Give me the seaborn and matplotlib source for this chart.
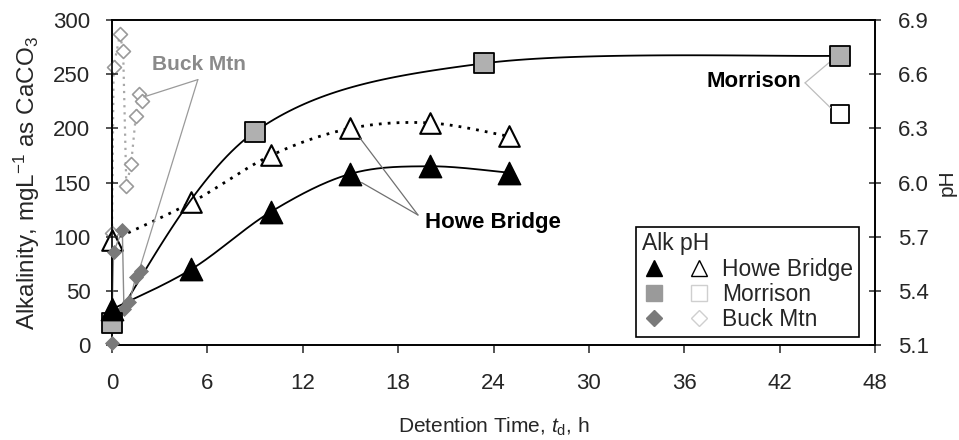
import numpy as np
import matplotlib
matplotlib.use("Agg")
import matplotlib.pyplot as plt
import seaborn as sns
from matplotlib.lines import Line2D
from matplotlib.legend_handler import HandlerTuple

# Detention time (h) and alkalinity (mg/L as CaCO3) / pH for three treatment sites
howe_t = [0, 5, 10, 15, 20, 25]
howe_alk = [33, 70, 123, 158, 165, 159]
howe_ph = [5.68, 5.89, 6.15, 6.30, 6.33, 6.255]

morr_t = [0, 9, 23.4, 45.8]
morr_alk = [20, 197, 260, 267]
morr_ph_t = [45.8]
morr_ph = [6.38]

buck_alk_t = [0, 0, 0.1, 0.65, 0.75, 1.1, 1.5, 1.8]
buck_alk = [2, 25, 86, 106, 33, 40, 63, 68]
buck_ph_t = [0, 0.1, 0.5, 0.7, 0.9, 1.2, 1.5, 1.7, 1.9]
buck_ph = [5.72, 6.64, 6.82, 6.73, 5.98, 6.10, 6.37, 6.49, 6.45]

x_ticks = [0, 6, 12, 18, 24, 30, 36, 42, 48]
alk_ticks = [0, 50, 100, 150, 200, 250, 300]
ph_ticks = [5.1, 5.4, 5.7, 6.0, 6.3, 6.6, 6.9]

sns.set_style("ticks")
plt.rcParams["font.family"] = ["Liberation Sans", "DejaVu Sans"]
plt.rcParams["mathtext.fontset"] = "custom"
plt.rcParams["mathtext.rm"] = "Liberation Sans"
plt.rcParams["mathtext.it"] = "Liberation Sans:italic"


def smooth(x, y, sx, sy, n=40):
    """Bezier-smoothed path through the points (spreadsheet-style smoothing)."""
    P = np.column_stack([np.asarray(x, float) * sx, np.asarray(y, float) * sy])
    P = np.vstack([P[0], P, P[-1]])
    tt = np.linspace(0, 1, n)[:, None]
    out = []
    for i in range(1, len(P) - 2):
        p0, p1, p2, p3 = P[i - 1], P[i], P[i + 1], P[i + 2]
        c1 = p1 + (p2 - p0) / 6
        c2 = p2 - (p3 - p1) / 6
        seg = ((1 - tt) ** 3 * p1 + 3 * (1 - tt) ** 2 * tt * c1
               + 3 * (1 - tt) * tt ** 2 * c2 + tt ** 3 * p2)
        out.append(seg if i == 1 else seg[1:])
    out = np.vstack(out)
    return out[:, 0] / sx, out[:, 1] / sy


fig = plt.figure(figsize=(9.59, 4.40), dpi=100)
ax = fig.add_axes([0.1168, 0.2159, 0.7956, 0.7386])
ax2 = ax.twinx()

XS, YS, PS = 15.9, 1.082, 180.3  # px per unit for smoothing
noclip = dict(clip_on=False)

# Alkalinity curves
mx, my = smooth(morr_t, morr_alk, XS, YS)
sns.lineplot(x=mx, y=my, sort=False, estimator=None, color="black", lw=1.3, ax=ax)
hx, hy = smooth(howe_t, howe_alk, XS, YS)
sns.lineplot(x=hx, y=hy, sort=False, estimator=None, color="black", lw=1.3, ax=ax)
sns.lineplot(x=buck_alk_t, y=buck_alk, sort=False, estimator=None,
             color="#8c8c8c", lw=1.0, ax=ax, **noclip)

# pH curves
px_, py_ = smooth(howe_t, howe_ph, XS, PS)
sns.lineplot(x=px_, y=py_, sort=False, estimator=None, color="black", lw=2.0,
             linestyle=(0, (1, 2.2)), ax=ax2)
sns.lineplot(x=buck_ph_t, y=buck_ph, sort=False, estimator=None, color="#a8a8a8",
             lw=1.6, linestyle=(0, (1, 2.2)), ax=ax2, **noclip)

# Markers: alkalinity (filled)
sns.scatterplot(x=buck_alk_t, y=buck_alk, marker="D", s=50, color="#7a7a7a",
                edgecolor="#7a7a7a", linewidth=0.6, zorder=4, ax=ax, **noclip)
sns.scatterplot(x=morr_t, y=morr_alk, marker="s", s=200, color="#b0b0b0",
                edgecolor="black", linewidth=1.3, zorder=5, ax=ax, **noclip)
sns.scatterplot(x=howe_t, y=howe_alk, marker="^", s=260, color="black",
                edgecolor="black", linewidth=1.0, zorder=6, ax=ax, **noclip)

# Markers: pH (open)
sns.scatterplot(x=buck_ph_t, y=buck_ph, marker="D", s=50, color="white",
                edgecolor="#9a9a9a", linewidth=1.2, zorder=4, ax=ax2, **noclip)
sns.scatterplot(x=howe_t, y=howe_ph, marker="^", s=220, color="white",
                edgecolor="black", linewidth=1.5, zorder=6, ax=ax2, **noclip)
sns.scatterplot(x=morr_ph_t, y=morr_ph, marker="s", s=180, color="white",
                edgecolor="black", linewidth=1.3, zorder=5, ax=ax2, **noclip)

ax.set_xlim(0, 48)
ax.set_ylim(0, 300)
ax2.set_ylim(5.1, 6.9)
ax.set_xticks(x_ticks)
ax.set_yticks(alk_ticks)
ax2.set_yticks(ph_ticks)
ax2.set_yticklabels([f"{v:.1f}" for v in ph_ticks])
ax.set_xticklabels([str(v) for v in x_ticks])

for a in (ax, ax2):
    for sp in a.spines.values():
        sp.set_linewidth(1.2)
        sp.set_color("black")
        sp.set_visible(True)
ax.tick_params(axis="x", direction="out", length=6, width=1.1, labelsize=16, pad=14)
ax.tick_params(axis="y", direction="inout", length=9, width=1.1, labelsize=16, pad=11)
ax2.tick_params(axis="y", direction="inout", length=9, width=1.1, labelsize=16, pad=12)

ax.set_xlabel(r"Detention Time, $t_{\mathrm{d}}$, h", fontsize=15, labelpad=16)
ax.set_ylabel(r"Alkalinity, mgL$^{-1}$ as CaCO$_3$", fontsize=17.5, labelpad=8)
ax2.set_ylabel("pH", fontsize=15, labelpad=6)

# Site labels with leader lines
lead = dict(color="#9a9a9a", lw=0.9)
ax.text(5.5, 259, "Buck Mtn", fontsize=15, fontweight="bold", color="#8a8a8a",
        ha="center", va="center")
ax.plot([5.4, 2.0], [245, 229], **lead)
ax.plot([5.4, 1.75], [245, 71], **lead)

ax.text(19.7, 113, "Howe Bridge", fontsize=16, fontweight="bold", color="black",
        ha="left", va="center")
ax.plot([19.25, 15.6], [120, 191], color="#707070", lw=0.9)
ax.plot([19.25, 15.7], [120, 150], color="#707070", lw=0.9)

ax.text(43.4, 243.5, "Morrison", fontsize=16, fontweight="bold", color="black",
        ha="right", va="center")
ax.plot([43.6, 45.3], [242, 263], color="#bdbdbd", lw=0.9)
ax.plot([43.6, 45.2], [242, 219], color="#bdbdbd", lw=0.9)

# Legend: filled (Alk) and open (pH) symbol per site
def mk(marker, face, edge, ms, mew=1.0):
    return Line2D([], [], linestyle="none", marker=marker, markerfacecolor=face,
                  markeredgecolor=edge, markersize=ms, markeredgewidth=mew)

handles = [
    (mk("^", "black", "black", 12), mk("^", "white", "black", 12, 1.0)),
    (mk("s", "#9a9a9a", "#9a9a9a", 12), mk("s", "white", "#cfcfcf", 12, 1.0)),
    (mk("D", "#7a7a7a", "#7a7a7a", 8.5), mk("D", "white", "#cfcfcf", 8.5, 1.0)),
]
leg = ax.legend(handles, ["Howe Bridge", "Morrison", "Buck Mtn"],
                handler_map={tuple: HandlerTuple(ndivide=None, pad=0.9)},
                title="Alk pH", loc="lower right", bbox_to_anchor=(0.979, 0.025),
                fontsize=16.5, title_fontsize=16.5, handlelength=3.0,
                handletextpad=0.5, labelspacing=0.1, borderpad=0.25,
                borderaxespad=0, fancybox=False, framealpha=1, edgecolor="black")
leg.get_frame().set_linewidth(1.2)
leg._legend_box.align = "left"
leg.set_zorder(10)
ax.set_zorder(ax2.get_zorder() + 1)
ax.patch.set_visible(False)

fig.savefig("out.png", dpi=100)
